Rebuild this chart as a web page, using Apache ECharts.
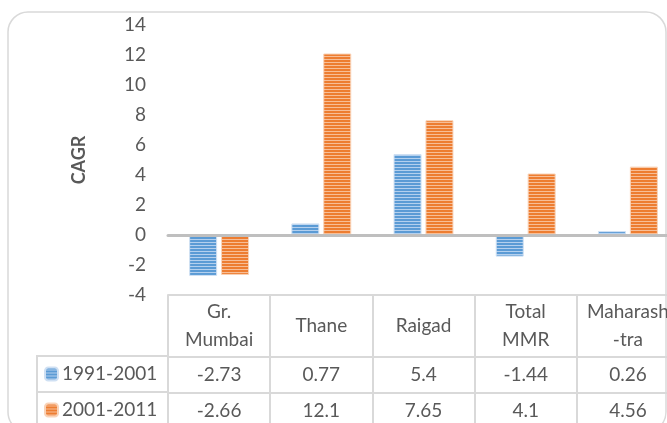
<!DOCTYPE html>
<html>
<head>
<meta charset="utf-8">
<style>
  html, body { margin: 0; padding: 0; background: #fff; overflow: hidden; }
  #chart { width: 680px; height: 423px; }
</style>
<script src="https://cdn.jsdelivr.net/npm/echarts@6/dist/echarts.min.js"></script>
</head>
<body>
<div id="chart"></div>
<script>
const categories = ["Gr.\nMumbai", "Thane", "Raigad", "Total\nMMR", "Maharash\n-tra"];
const seriesNames = ["1991-2001", "2001-2011"];
const values1991 = [-2.73, 0.77, 5.4, -1.44, 0.26];
const values2001 = [-2.66, 12.1, 7.65, 4.1, 4.56];
const yTicks = { min: -4, max: 14, interval: 2 };

const FONT = "Lato, 'Open Sans', sans-serif";
const TEXT = "#595959";
const GRID_LINE = "#d9d9d9";

// striped fill like the Excel pattern
function stripes(base, light) {
  const c = document.createElement("canvas");
  c.width = 4;
  c.height = 3;
  const ctx = c.getContext("2d");
  ctx.fillStyle = base;
  ctx.fillRect(0, 0, 4, 3);
  ctx.fillStyle = light;
  ctx.fillRect(0, 2, 4, 1);
  return { image: c, repeat: "repeat" };
}

const blueFill = stripes("#5b9bd5", "#b4d0ee");
const orangeFill = stripes("#ed7d31", "#f7be97");

function valueAxis(data, offset, margin) {
  return {
    type: "category",
    data: data.map((v) => String(v)),
    position: "bottom",
    offset: offset,
    axisLine: { show: true, onZero: false, lineStyle: { color: GRID_LINE, width: 2 } },
    axisTick: { show: false },
    axisLabel: {
      interval: 0,
      margin: margin,
      verticalAlign: "middle",
      color: TEXT,
      fontSize: 19,
      fontFamily: FONT,
    },
  };
}

const chart = echarts.init(document.getElementById("chart"));
chart.setOption({
  backgroundColor: "#fff",
  animation: false,
  grid: { left: 168, right: 1, top: 25, bottom: 128 },
  legend: {
    orient: "vertical",
    left: 44,
    top: 364,
    padding: 0,
    itemWidth: 13,
    itemHeight: 13,
    itemGap: 16,
    data: seriesNames,
    textStyle: { color: TEXT, fontSize: 19, fontFamily: FONT, lineHeight: 20, padding: [0, 0, 0, -1] },
  },
  xAxis: [
    {
      type: "category",
      data: categories,
      z: 5,
      axisLine: { onZero: true, lineStyle: { color: "#bfbfbf", width: 3 } },
      axisTick: { show: false },
      axisLabel: { show: false },
    },
    {
      type: "category",
      data: categories,
      position: "bottom",
      offset: 0,
      axisLine: { show: true, onZero: false, lineStyle: { color: GRID_LINE, width: 2 } },
      axisTick: { show: true, interval: 0, length: 140, lineStyle: { color: GRID_LINE, width: 2 } },
      axisLabel: {
        interval: 0,
        margin: 31,
        verticalAlign: "middle",
        lineHeight: 28,
        color: TEXT,
        fontSize: 19,
        fontFamily: FONT,
      },
    },
    valueAxis(values1991, 62, 18),
    valueAxis(values2001, 98, 18),
  ],
  yAxis: {
    type: "value",
    min: yTicks.min,
    max: yTicks.max,
    interval: yTicks.interval,
    name: "CAGR",
    nameLocation: "middle",
    nameGap: 80,
    nameTextStyle: { color: TEXT, fontSize: 18, fontWeight: "bold", fontFamily: FONT },
    axisLine: { show: false },
    axisTick: { show: false },
    splitLine: { show: false },
    axisLabel: { color: TEXT, fontSize: 19, fontFamily: FONT, margin: 22 },
  },
  series: [
    {
      name: seriesNames[0],
      type: "bar",
      data: values1991,
      barWidth: 28,
      barGap: "14%",
      itemStyle: { color: blueFill, borderColor: "#cfe0f3", borderWidth: 1 },
    },
    {
      name: seriesNames[1],
      type: "bar",
      data: values2001,
      barWidth: 28,
      barGap: "14%",
      itemStyle: { color: orangeFill, borderColor: "#f9d3b8", borderWidth: 1 },
    },
  ],
  graphic: [
    {
      type: "rect",
      silent: true,
      shape: { x: 8, y: 12, width: 658, height: 420, r: 20 },
      style: { fill: null, stroke: GRID_LINE, lineWidth: 1.5 },
    },
    {
      type: "line",
      silent: true,
      shape: { x1: 37, y1: 356, x2: 168, y2: 356 },
      style: { stroke: GRID_LINE, lineWidth: 2 },
    },
    {
      type: "line",
      silent: true,
      shape: { x1: 37, y1: 392, x2: 168, y2: 392 },
      style: { stroke: GRID_LINE, lineWidth: 2 },
    },
    {
      type: "line",
      silent: true,
      shape: { x1: 37, y1: 355, x2: 37, y2: 430 },
      style: { stroke: GRID_LINE, lineWidth: 2 },
    },
  ],
});
</script>
</body>
</html>
